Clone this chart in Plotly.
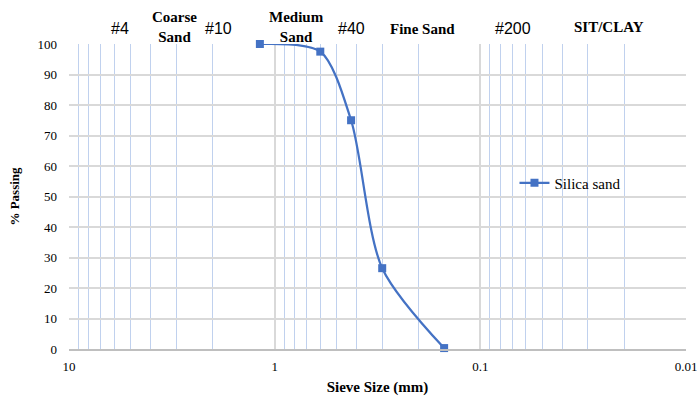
import plotly.graph_objects as go

sieve_mm = [1.18, 0.6, 0.425, 0.3, 0.15]
passing = [100, 97.5, 75, 26.5, 0.3]
series_name = "Silica sand"

top_labels = ["#4", "Coarse<br>Sand", "#10", "Medium<br>Sand", "#40", "Fine Sand", "#200", "SIT/CLAY"]
top_label_x = [0.083, 0.171, 0.243, 0.369, 0.458, 0.573, 0.720, 0.876]
top_label_y = [1.05, 1.057, 1.05, 1.057, 1.05, 1.05, 1.05, 1.057]
top_label_bold = [False, True, False, True, False, True, False, True]

x_tickvals = [10, 1, 0.1, 0.01]
x_ticktext = ["10", "1", "0.1", "0.01"]
y_tickvals = list(range(0, 101, 10))

BLUE = "#4472C4"
SERIF = "Liberation Serif, Times New Roman, serif"
SANS = "Liberation Sans, Arial, sans-serif"

fig = go.Figure()
fig.add_trace(go.Scatter(
    x=sieve_mm, y=passing, name=series_name, mode="lines+markers",
    line=dict(color=BLUE, width=2.25, shape="spline", smoothing=0.8),
    marker=dict(symbol="square", size=8, color=BLUE),
    cliponaxis=False,
))

annotations = []
for txt, xp, yp, b in zip(top_labels, top_label_x, top_label_y, top_label_bold):
    annotations.append(dict(
        text=f"<b>{txt}</b>" if b else txt, x=xp, y=yp, xref="paper", yref="paper",
        xanchor="center", yanchor="middle", showarrow=False,
        font=dict(family=SERIF if b else SANS, size=15 if b else 16, color="#000"),
    ))

fig.update_layout(
    width=697, height=396,
    margin=dict(l=69, r=11, t=44, b=47, autoexpand=False),
    paper_bgcolor="white", plot_bgcolor="white",
    showlegend=True,
    legend=dict(x=0.722, y=0.544, xanchor="left", yanchor="middle",
                font=dict(family=SERIF, size=15, color="#000"),
                bgcolor="rgba(0,0,0,0)"),
    annotations=annotations,
    xaxis=dict(
        type="log", range=[1, -2], tickvals=x_tickvals, ticktext=x_ticktext,
        automargin=False, ticklabeloverflow="allow", ticklabelstandoff=5,
        showgrid=True, gridcolor="#d9d9d9", gridwidth=1.5,
        minor=dict(dtick="D1", showgrid=True, gridcolor="#c0d1ee", gridwidth=1.2, ticks=""),
        showline=True, linecolor="#bfbfbf", linewidth=1.5, ticks="",
        tickfont=dict(family=SERIF, size=13, color="#000"),
        title=dict(text="<b>Sieve Size (mm)</b>", font=dict(family=SERIF, size=15, color="#000"), standoff=10),
        zeroline=False,
    ),
    yaxis=dict(
        range=[0, 100], tickvals=y_tickvals, automargin=False,
        showgrid=True, gridcolor="#d9d9d9", gridwidth=1.5,
        showline=False, ticks="", zeroline=False,
        tickfont=dict(family=SERIF, size=13, color="#000"),
        ticklabelstandoff=11,
        title=dict(text="<b>% Passing</b>", font=dict(family=SERIF, size=13, color="#000"), standoff=14),
    ),
)

fig.write_html("out.html", config={"displayModeBar": False},
               post_script="document.body.style.margin='0';document.body.style.overflow='hidden';")
